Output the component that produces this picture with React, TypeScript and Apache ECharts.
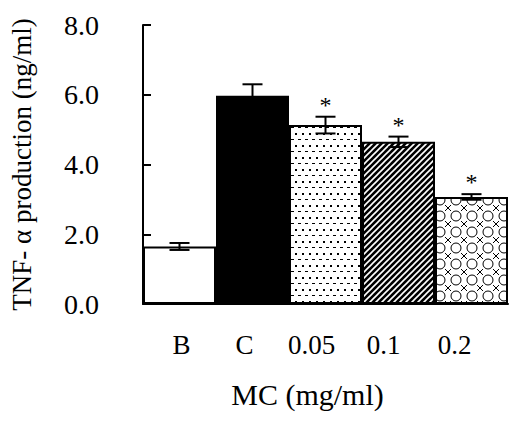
import React, { useEffect, useRef } from "react";
import * as echarts from "echarts";

// Groups along the x axis
const categories = ["B", "C", "0.05", "0.1", "0.2"];
// Mean TNF-α production (ng/ml)
const means = [1.65, 5.97, 5.13, 4.65, 3.07];
// Standard error for each group
const errors = [0.1, 0.33, 0.24, 0.15, 0.08];
// Significance marks above the bars
const marks = ["", "", "*", "*", "*"];
// Y axis ticks
const yMin = 0;
const yMax = 8;
const yStep = 2;

// Horizontal nudge (px) of each category label relative to its bar centre
const labelNudge = [2, -8, -14, -15, -17];

const SERIF = "'Liberation Serif', 'Times New Roman', serif";

function makeTile(w: number, h: number, draw: (ctx: CanvasRenderingContext2D) => void) {
  const c = document.createElement("canvas");
  c.width = w;
  c.height = h;
  const ctx = c.getContext("2d")!;
  draw(ctx);
  return c;
}

function dotsTile() {
  return makeTile(14, 12, (ctx) => {
    ctx.fillStyle = "#fff";
    ctx.fillRect(0, 0, 14, 12);
    ctx.fillStyle = "#000";
    ctx.fillRect(1, 1, 2, 2);
    ctx.fillRect(8, 1, 2, 2);
    ctx.fillRect(4, 7, 3, 1);
    ctx.fillRect(11, 7, 3, 1);
  });
}

function stripesTile() {
  return makeTile(6, 6, (ctx) => {
    ctx.fillStyle = "#000";
    ctx.fillRect(0, 0, 6, 6);
    ctx.strokeStyle = "#fff";
    ctx.lineWidth = 1.6;
    ctx.beginPath();
    ctx.moveTo(-1, 7);
    ctx.lineTo(7, -1);
    ctx.moveTo(-4, 4);
    ctx.lineTo(4, -4);
    ctx.moveTo(2, 10);
    ctx.lineTo(10, 2);
    ctx.stroke();
  });
}

function latticeTile() {
  return makeTile(16, 16, (ctx) => {
    ctx.fillStyle = "#fff";
    ctx.fillRect(0, 0, 16, 16);
    ctx.strokeStyle = "#000";
    ctx.lineWidth = 1;
    ctx.beginPath();
    ctx.arc(8, 8, 5, 0, Math.PI * 2);
    ctx.stroke();
    // small crosses at the tile corners
    ctx.beginPath();
    const arm = 3;
    for (const [cx, cy] of [[0, 0], [16, 0], [0, 16], [16, 16]]) {
      ctx.moveTo(cx - arm, cy - arm);
      ctx.lineTo(cx + arm, cy + arm);
      ctx.moveTo(cx + arm, cy - arm);
      ctx.lineTo(cx - arm, cy + arm);
    }
    ctx.stroke();
  });
}

export default function App() {
  const ref = useRef<HTMLDivElement>(null);

  useEffect(() => {
    if (!ref.current) return;
    const chart = echarts.init(ref.current, undefined, { renderer: "svg" });

    const fills: any[] = [
      "#fff",
      "#000",
      { image: dotsTile(), repeat: "repeat" },
      { image: stripesTile(), repeat: "repeat" },
      { image: latticeTile(), repeat: "repeat" },
    ];

    const rich: Record<string, any> = {};
    labelNudge.forEach((n, i) => {
      rich["l" + i] = {
        fontFamily: SERIF,
        fontSize: 27,
        color: "#000",
        padding: n < 0 ? [0, -2 * n, 0, 0] : [0, 0, 0, 2 * n],
      };
    });

    chart.setOption({
      animation: false,
      backgroundColor: "#fff",
      grid: { left: 141, right: 19, top: 25, bottom: 117, containLabel: false },
      xAxis: {
        type: "category",
        data: categories,
        name: "MC (mg/ml)",
        nameLocation: "middle",
        nameGap: 75,
        nameTextStyle: {
          fontFamily: SERIF,
          fontSize: 30,
          color: "#000",
          padding: [0, 36, 0, 0],
        },
        axisLine: { lineStyle: { color: "#000", width: 2 } },
        axisTick: { show: false },
        axisLabel: {
          margin: 27,
          formatter: (v: string) => `{l${categories.indexOf(v)}|${v}}`,
          rich,
        },
      },
      yAxis: {
        type: "value",
        min: yMin,
        max: yMax,
        interval: yStep,
        name: "TNF- α production (ng/ml)",
        nameLocation: "middle",
        nameGap: 108,
        nameTextStyle: { fontFamily: SERIF, fontSize: 27, color: "#000" },
        axisLine: { show: true, lineStyle: { color: "#000", width: 2 } },
        axisTick: { show: true, inside: true, length: 8, lineStyle: { color: "#000", width: 2 } },
        splitLine: { show: false },
        axisLabel: {
          margin: 44,
          fontFamily: SERIF,
          fontSize: 28,
          color: "#000",
          formatter: (v: number) => v.toFixed(1),
        },
      },
      series: [
        {
          type: "bar",
          data: means.map((v, i) => ({
            value: v,
            itemStyle: { color: fills[i], borderColor: "#000", borderWidth: 2 },
          })),
          barWidth: "100%",
          barCategoryGap: 0,
          z: 2,
        },
        {
          type: "custom",
          z: 5,
          data: means.map((v, i) => [i, v, errors[i]]),
          renderItem: (params: any, api: any) => {
            const i = api.value(0);
            const v = api.value(1);
            const e = api.value(2);
            const top = api.coord([i, v + e]);
            const bot = api.coord([i, v - e]);
            const half = 10;
            const children: any[] = [
              {
                type: "line",
                shape: { x1: top[0], y1: top[1], x2: bot[0], y2: bot[1] },
                style: { stroke: "#000", lineWidth: 2 },
              },
              {
                type: "line",
                shape: { x1: top[0] - half, y1: top[1], x2: top[0] + half, y2: top[1] },
                style: { stroke: "#000", lineWidth: 2 },
              },
              {
                type: "line",
                shape: { x1: bot[0] - half, y1: bot[1], x2: bot[0] + half, y2: bot[1] },
                style: { stroke: "#000", lineWidth: 2 },
              },
            ];
            const m = marks[params.dataIndex];
            if (m) {
              children.push({
                type: "text",
                style: {
                  text: m,
                  x: top[0],
                  y: top[1] - 12,
                  align: "center",
                  verticalAlign: "middle",
                  fontFamily: SERIF,
                  fontSize: 24,
                  fill: "#000",
                },
              });
            }
            return { type: "group", children };
          },
        },
      ],
    });

    return () => chart.dispose();
  }, []);

  return (
    <div
      ref={ref}
      style={{ position: "fixed", left: 0, top: 0, width: 527, height: 421 }}
    />
  );
}
